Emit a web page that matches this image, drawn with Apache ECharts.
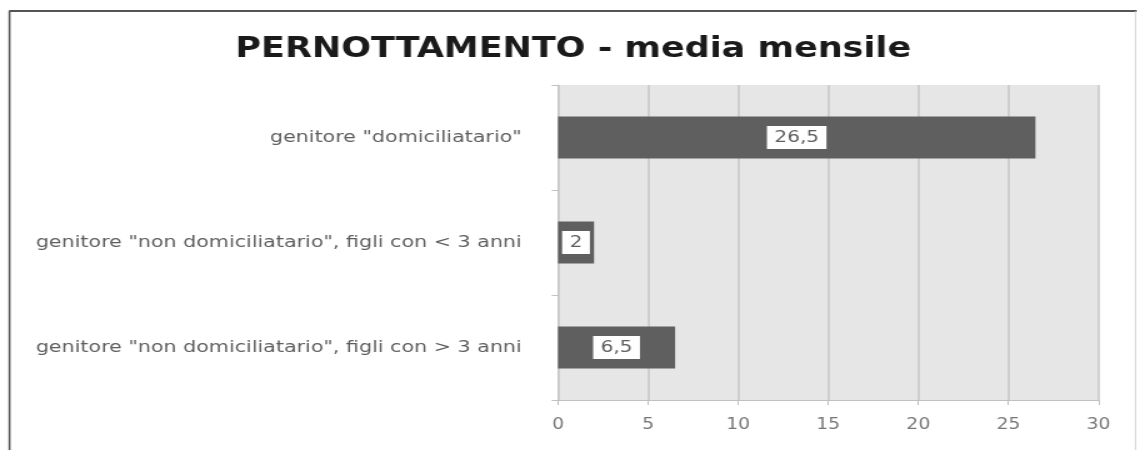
<!DOCTYPE html>
<html>
<head>
<meta charset="utf-8">
<script src="https://cdn.jsdelivr.net/npm/echarts@6/dist/echarts.min.js"></script>
<style>
html,body{margin:0;padding:0;background:#fff;overflow:hidden}
#wrap{width:1137px;height:450px;overflow:hidden}
#c{width:909.6px;height:450px;transform:scaleX(1.25);transform-origin:0 0}
</style>
</head>
<body>
<div id="wrap"><div id="c"></div></div>
<script>
const titleText = 'PERNOTTAMENTO - media mensile';
const categories = [
  'genitore "domiciliatario"',
  'genitore "non domiciliatario", figli con < 3 anni',
  'genitore "non domiciliatario", figli con > 3 anni'
];
const values = [26.5, 2, 6.5];
const valueLabels = ['26,5', '2', '6,5'];
const xTicks = { min: 0, max: 30, interval: 5 };

const FONT = 'DejaVu Sans';
const chart = echarts.init(document.getElementById('c'), null, { renderer: 'canvas' });
chart.setOption({
  animation: false,
  backgroundColor: '#ffffff',
  title: {
    text: titleText,
    left: 453.6, top: 31, textAlign: 'center',
    textStyle: { fontFamily: FONT, fontWeight: 'bold', fontSize: 28, color: '#1a1a1a' }
  },
  graphic: [
    { type: 'line', shape: { x1: 7.2, y1: 11, x2: 909.6, y2: 11 }, style: { stroke: '#555', lineWidth: 2 } },
    { type: 'line', shape: { x1: 7.6, y1: 11, x2: 7.6, y2: 450 }, style: { stroke: '#555', lineWidth: 1.6 } },
    { type: 'line', shape: { x1: 908.4, y1: 11, x2: 908.4, y2: 450 }, style: { stroke: '#c8c8c8', lineWidth: 0.8 } }
  ],
  grid: {
    left: 446.4, right: 31.2, top: 85, bottom: 50,
    show: true, backgroundColor: '#e6e6e6', borderWidth: 0
  },
  xAxis: {
    type: 'value', min: xTicks.min, max: xTicks.max, interval: xTicks.interval,
    axisLine: { show: true, lineStyle: { color: '#c0c0c0', width: 1 } },
    axisTick: { show: true, length: 5, lineStyle: { color: '#c0c0c0' } },
    splitLine: { show: true, lineStyle: { color: '#c8c8c8', width: 1.6 } },
    axisLabel: { color: '#777777', fontFamily: FONT, fontSize: 15, margin: 18 }
  },
  yAxis: {
    type: 'category', data: categories, inverse: true,
    axisLine: { show: true, lineStyle: { color: '#c8c8c8', width: 1 } },
    axisTick: { show: true, length: 5, lineStyle: { color: '#c0c0c0' } },
    splitLine: { show: false },
    axisLabel: { color: '#5e5e5e', fontFamily: FONT, fontSize: 16.5, margin: 29 }
  },
  series: [{
    type: 'bar',
    data: values,
    barWidth: '40%',
    itemStyle: { color: '#5f5f5f' },
    label: {
      show: true, position: 'inside',
      formatter: p => valueLabels[p.dataIndex],
      backgroundColor: '#ffffff', color: '#5e5e5e',
      fontFamily: FONT, fontSize: 16,
      padding: [4, 6, 3, 6]
    }
  }]
});
</script>
</body>
</html>
